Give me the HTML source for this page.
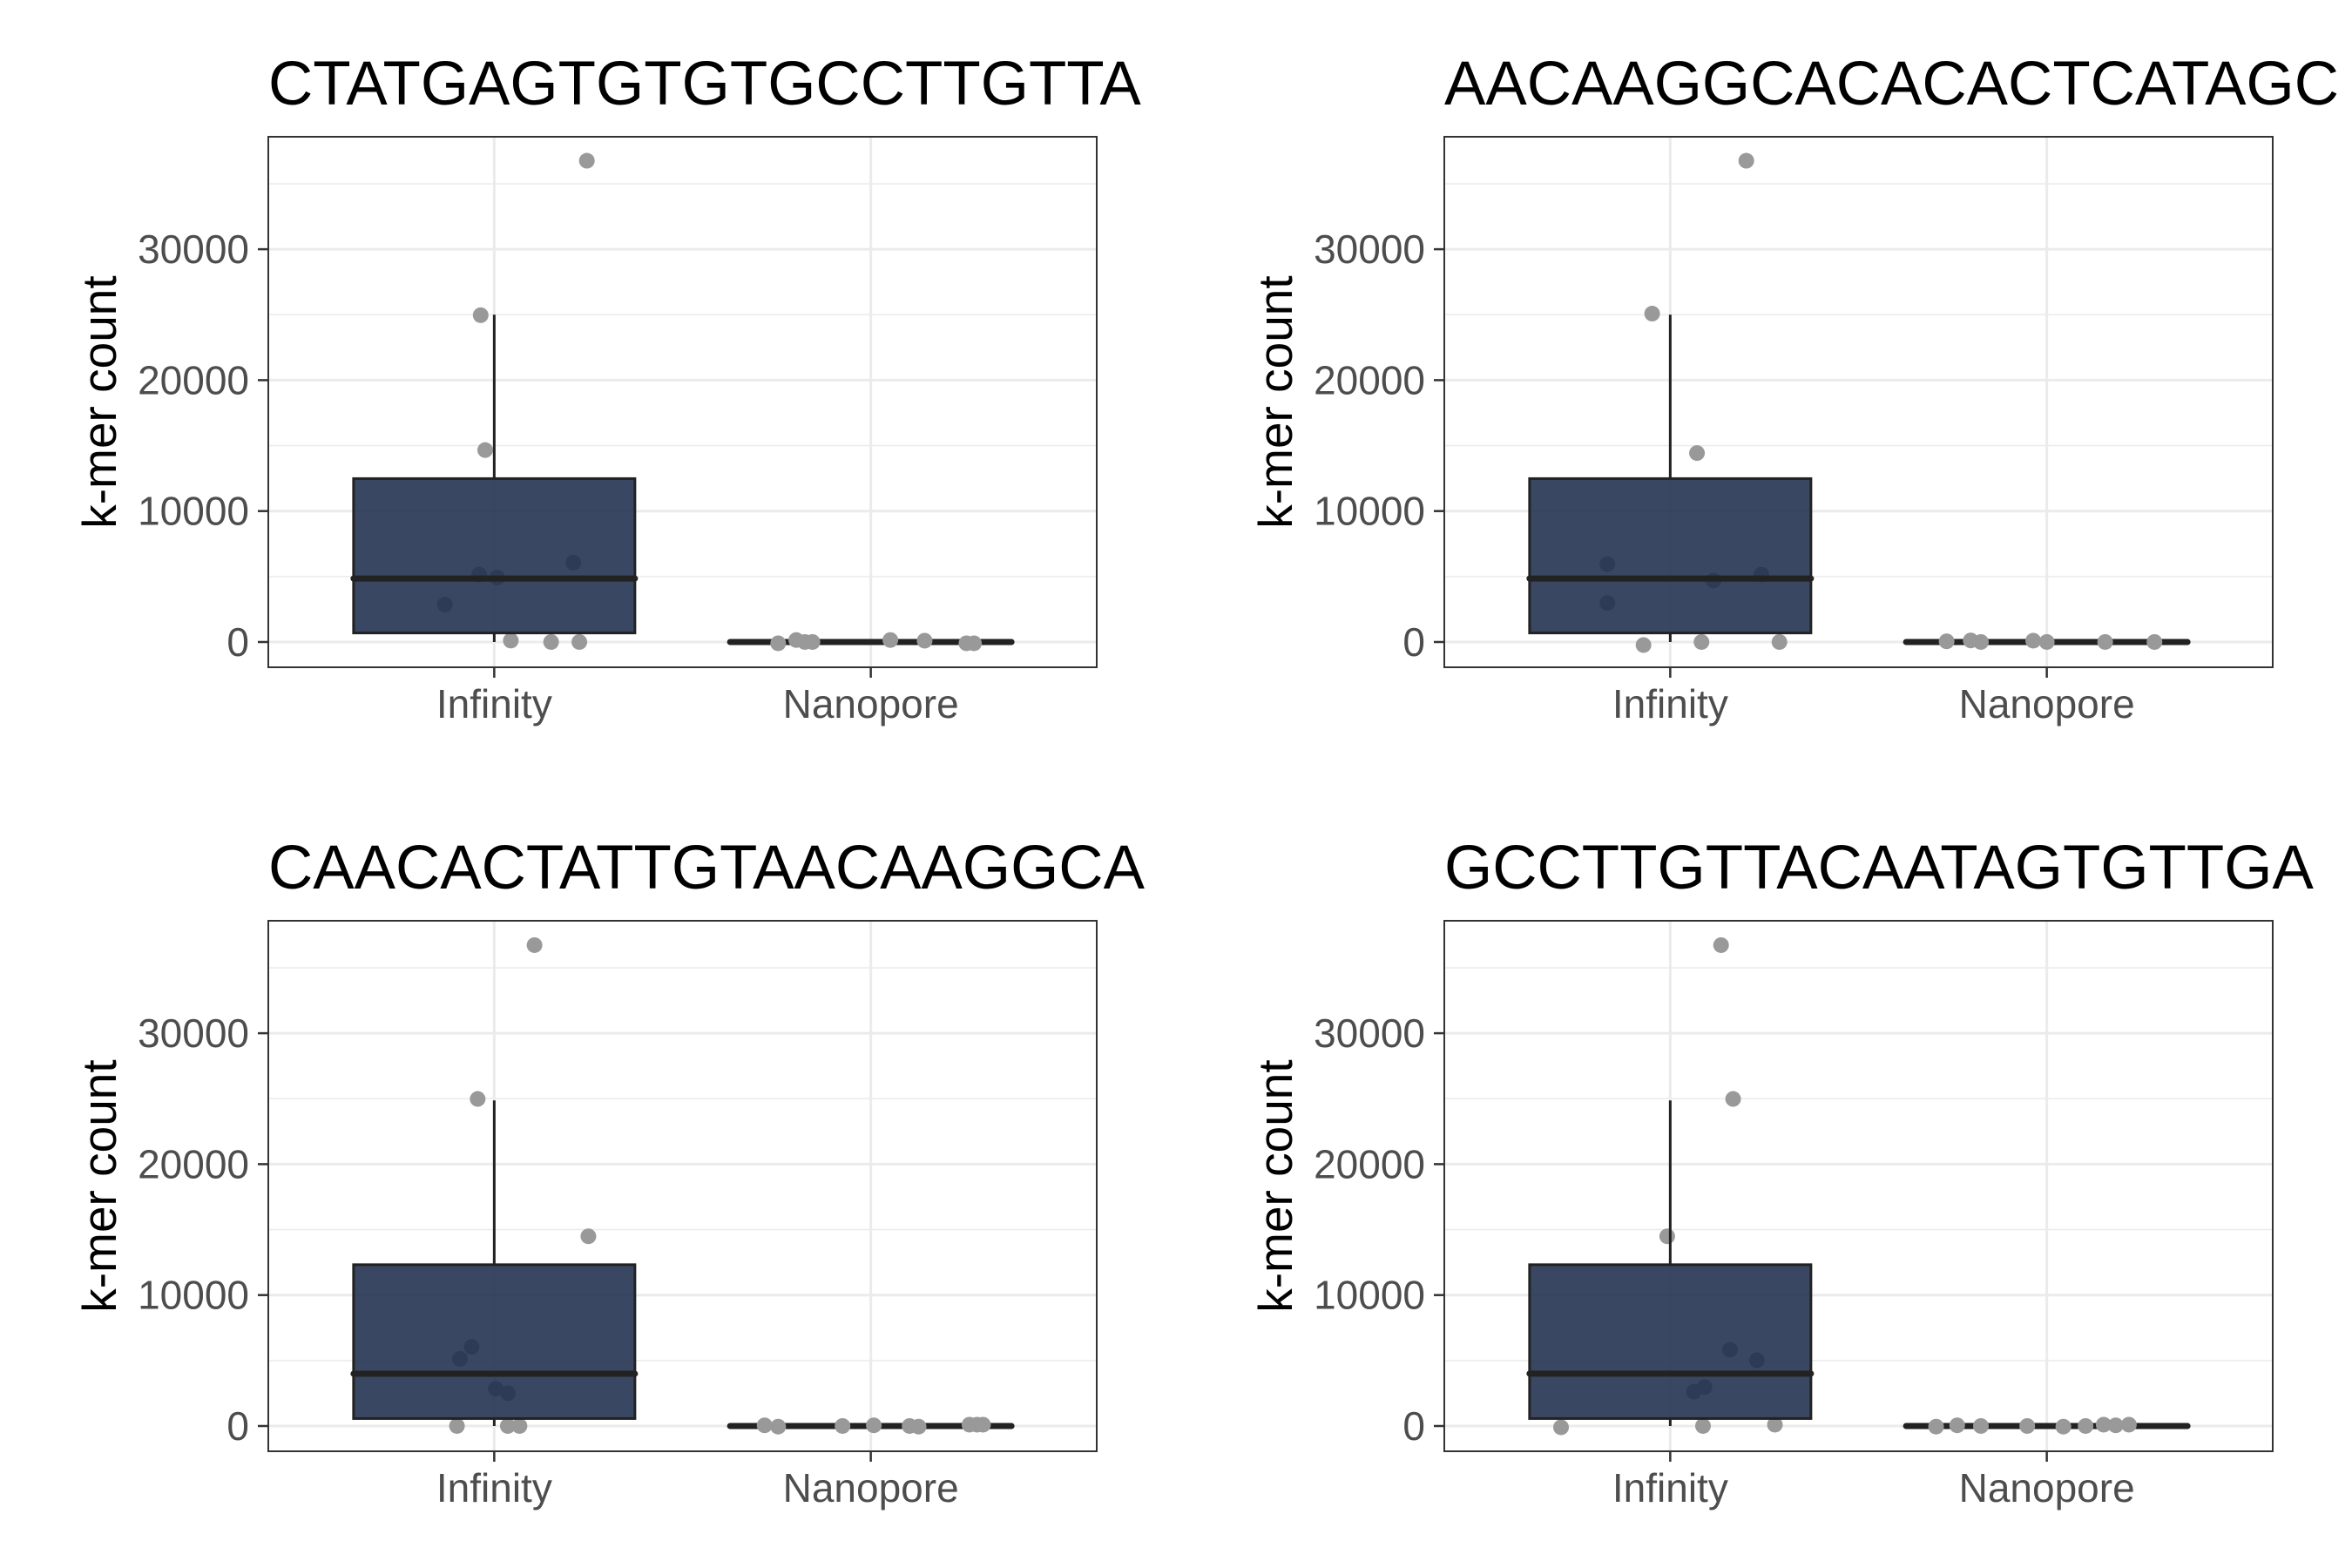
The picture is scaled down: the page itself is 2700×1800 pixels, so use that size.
<!DOCTYPE html>
<html><head><meta charset="utf-8"><style>
html,body{margin:0;padding:0;background:#fff;}
svg{display:block;font-family:"Liberation Sans",sans-serif;}
</style></head><body>
<svg id="chart" width="2700" height="1800" viewBox="0 0 2700 1800" xmlns="http://www.w3.org/2000/svg"></svg>
<script>
const titles = ["CTATGAGTGTGTGCCTTGTTA","AACAAGGCACACACTCATAGC","CAACACTATTGTAACAAGGCA","GCCTTGTTACAATAGTGTTGA"];
const categories = ["Infinity","Nanopore"];
const yTicks = [0,10000,20000,30000];
const yTickLabels = ["0","10000","20000","30000"];
const yMinor = [5000,15000,25000,35000];
const infValues = [
 [36760,24960,14660,5150,4920,6070,2860,110,0,0],
 [36760,25080,14430,5950,2980,4700,5150,-230,0,0],
 [36730,24980,14490,6050,5130,2850,2510,0,0,0],
 [36730,24980,14490,5820,5020,2970,2620,-100,0,100]];
const infJitter = [
 [0.246,-0.036,-0.024,-0.04,0.008,0.21,-0.131,0.044,0.151,0.226],
 [0.202,-0.048,0.071,-0.167,-0.167,0.115,0.242,-0.071,0.083,0.29],
 [0.107,-0.044,0.25,-0.06,-0.091,0.004,0.036,-0.099,0.036,0.067],
 [0.135,0.167,-0.008,0.159,0.23,0.091,0.063,-0.29,0.087,0.278]];
const nanoValues = [
 [-100,150,0,0,150,100,-100,-100],
 [50,120,0,100,0,0,0],
 [50,-50,0,50,0,-50,100,100,100],
 [-50,50,0,0,-50,0,100,50,100]];
const nanoJitter = [
 [-0.246,-0.198,-0.175,-0.155,0.052,0.143,0.254,0.274],
 [-0.266,-0.202,-0.175,-0.036,0,0.155,0.286],
 [-0.282,-0.246,-0.075,0.008,0.103,0.127,0.262,0.282,0.298],
 [-0.294,-0.238,-0.175,-0.052,0.044,0.103,0.151,0.183,0.218]];
// box stats: [lowerWhisker, Q1, median, Q3, upperWhisker]
const infBox = [[0,690,4850,12480,25000],[0,690,4850,12480,25000],[0,570,3990,12320,24870],[0,570,4000,12320,24870]];
const nanoBox = [[0,0,0,0,0],[0,0,0,0,0],[0,0,0,0,0],[0,0,0,0,0]];

const NS="http://www.w3.org/2000/svg";
const svg=document.getElementById('chart');
function mk(tag,attrs,parent){const e=document.createElementNS(NS,tag);for(const k in attrs)e.setAttribute(k,attrs[k]);(parent||svg).appendChild(e);return e;}
const PW=951,PH=609,yMin=-1930,yMax=38590;
for(let p=0;p<4;p++){
  const ox=(p%2)*1350, oy=Math.floor(p/2)*900;
  const L=308+ox,T=157+oy,R=L+PW,B=T+PH;
  const g=mk('g',{});
  
  
  const y=v=>B-(v-yMin)/(yMax-yMin)*PH;
  const x=c=>L+PW*(0.6+c)/2.2;
  const sc=PW/2.2;
  const t=mk('text',{x:L,y:120+oy,'font-size':71,fill:'#000'},g);t.textContent=titles[p];
  
  
  mk('rect',{x:L,y:T,width:PW,height:PH,fill:'#fff'},g);
  yMinor.forEach(v=>{if(y(v)>T)mk('line',{x1:L,x2:R,y1:y(v),y2:y(v),stroke:'#ebebeb','stroke-width':1.5},g);});
  yTicks.forEach(v=>mk('line',{x1:L,x2:R,y1:y(v),y2:y(v),stroke:'#ebebeb','stroke-width':3},g));
  categories.forEach((c,i)=>mk('line',{x1:x(i),x2:x(i),y1:T,y2:B,stroke:'#ebebeb','stroke-width':3},g));
  const boxes=[infBox[p],nanoBox[p]];
  const vals=[infValues[p],nanoValues[p]], jit=[infJitter[p],nanoJitter[p]];
  vals[0].forEach((v,i)=>{const c=mk('circle',{cx:x(0)+jit[0][i]*sc,cy:y(v),r:9,fill:'#999'},g);
    
    });
  boxes.forEach((b,i)=>{
    const cx=x(i),hw=323/2;
    mk('line',{x1:cx,x2:cx,y1:y(b[0]),y2:y(b[1]),stroke:'#222','stroke-width':3},g);
    mk('line',{x1:cx,x2:cx,y1:y(b[3]),y2:y(b[4]),stroke:'#222','stroke-width':3},g);
    const r=mk('rect',{x:cx-hw,y:y(b[3]),width:hw*2,height:Math.max(0,y(b[1])-y(b[3])),fill:'#1f2e4d','fill-opacity':0.88,stroke:'#222','stroke-width':3},g);
    
    
    mk('line',{x1:cx-hw,x2:cx+hw,y1:y(b[2]),y2:y(b[2]),stroke:'#222','stroke-width':7,'stroke-linecap':'round'},g);
  });
  vals[1].forEach((v,i)=>{const c=mk('circle',{cx:x(1)+jit[1][i]*sc,cy:y(v),r:9,fill:'#999'},g);
    
    });
  mk('rect',{x:L,y:T,width:PW,height:PH,fill:'none',stroke:'#333','stroke-width':2},g);
  yTicks.forEach((v,i)=>{
    mk('line',{x1:L-12,x2:L,y1:y(v),y2:y(v),stroke:'#333','stroke-width':2.5},g);
    const tx=mk('text',{x:L-22,y:y(v)+16,'font-size':46,'text-anchor':'end',fill:'#4d4d4d'},g);tx.textContent=yTickLabels[i];
    
    
  });
  categories.forEach((c,i)=>{
    mk('line',{x1:x(i),x2:x(i),y1:B,y2:B+12,stroke:'#333','stroke-width':2.5},g);
    const tx=mk('text',{x:x(i),y:B+58,'font-size':46,'text-anchor':'middle',fill:'#4d4d4d'},g);tx.textContent=c;
    
    
  });
  const yl=mk('text',{x:0,y:0,'font-size':55,'text-anchor':'middle',fill:'#000',transform:`translate(${133+ox},${T+PH/2}) rotate(-90)`},g);
  yl.textContent='k-mer count';
  
  
}
</script>
</body></html>
